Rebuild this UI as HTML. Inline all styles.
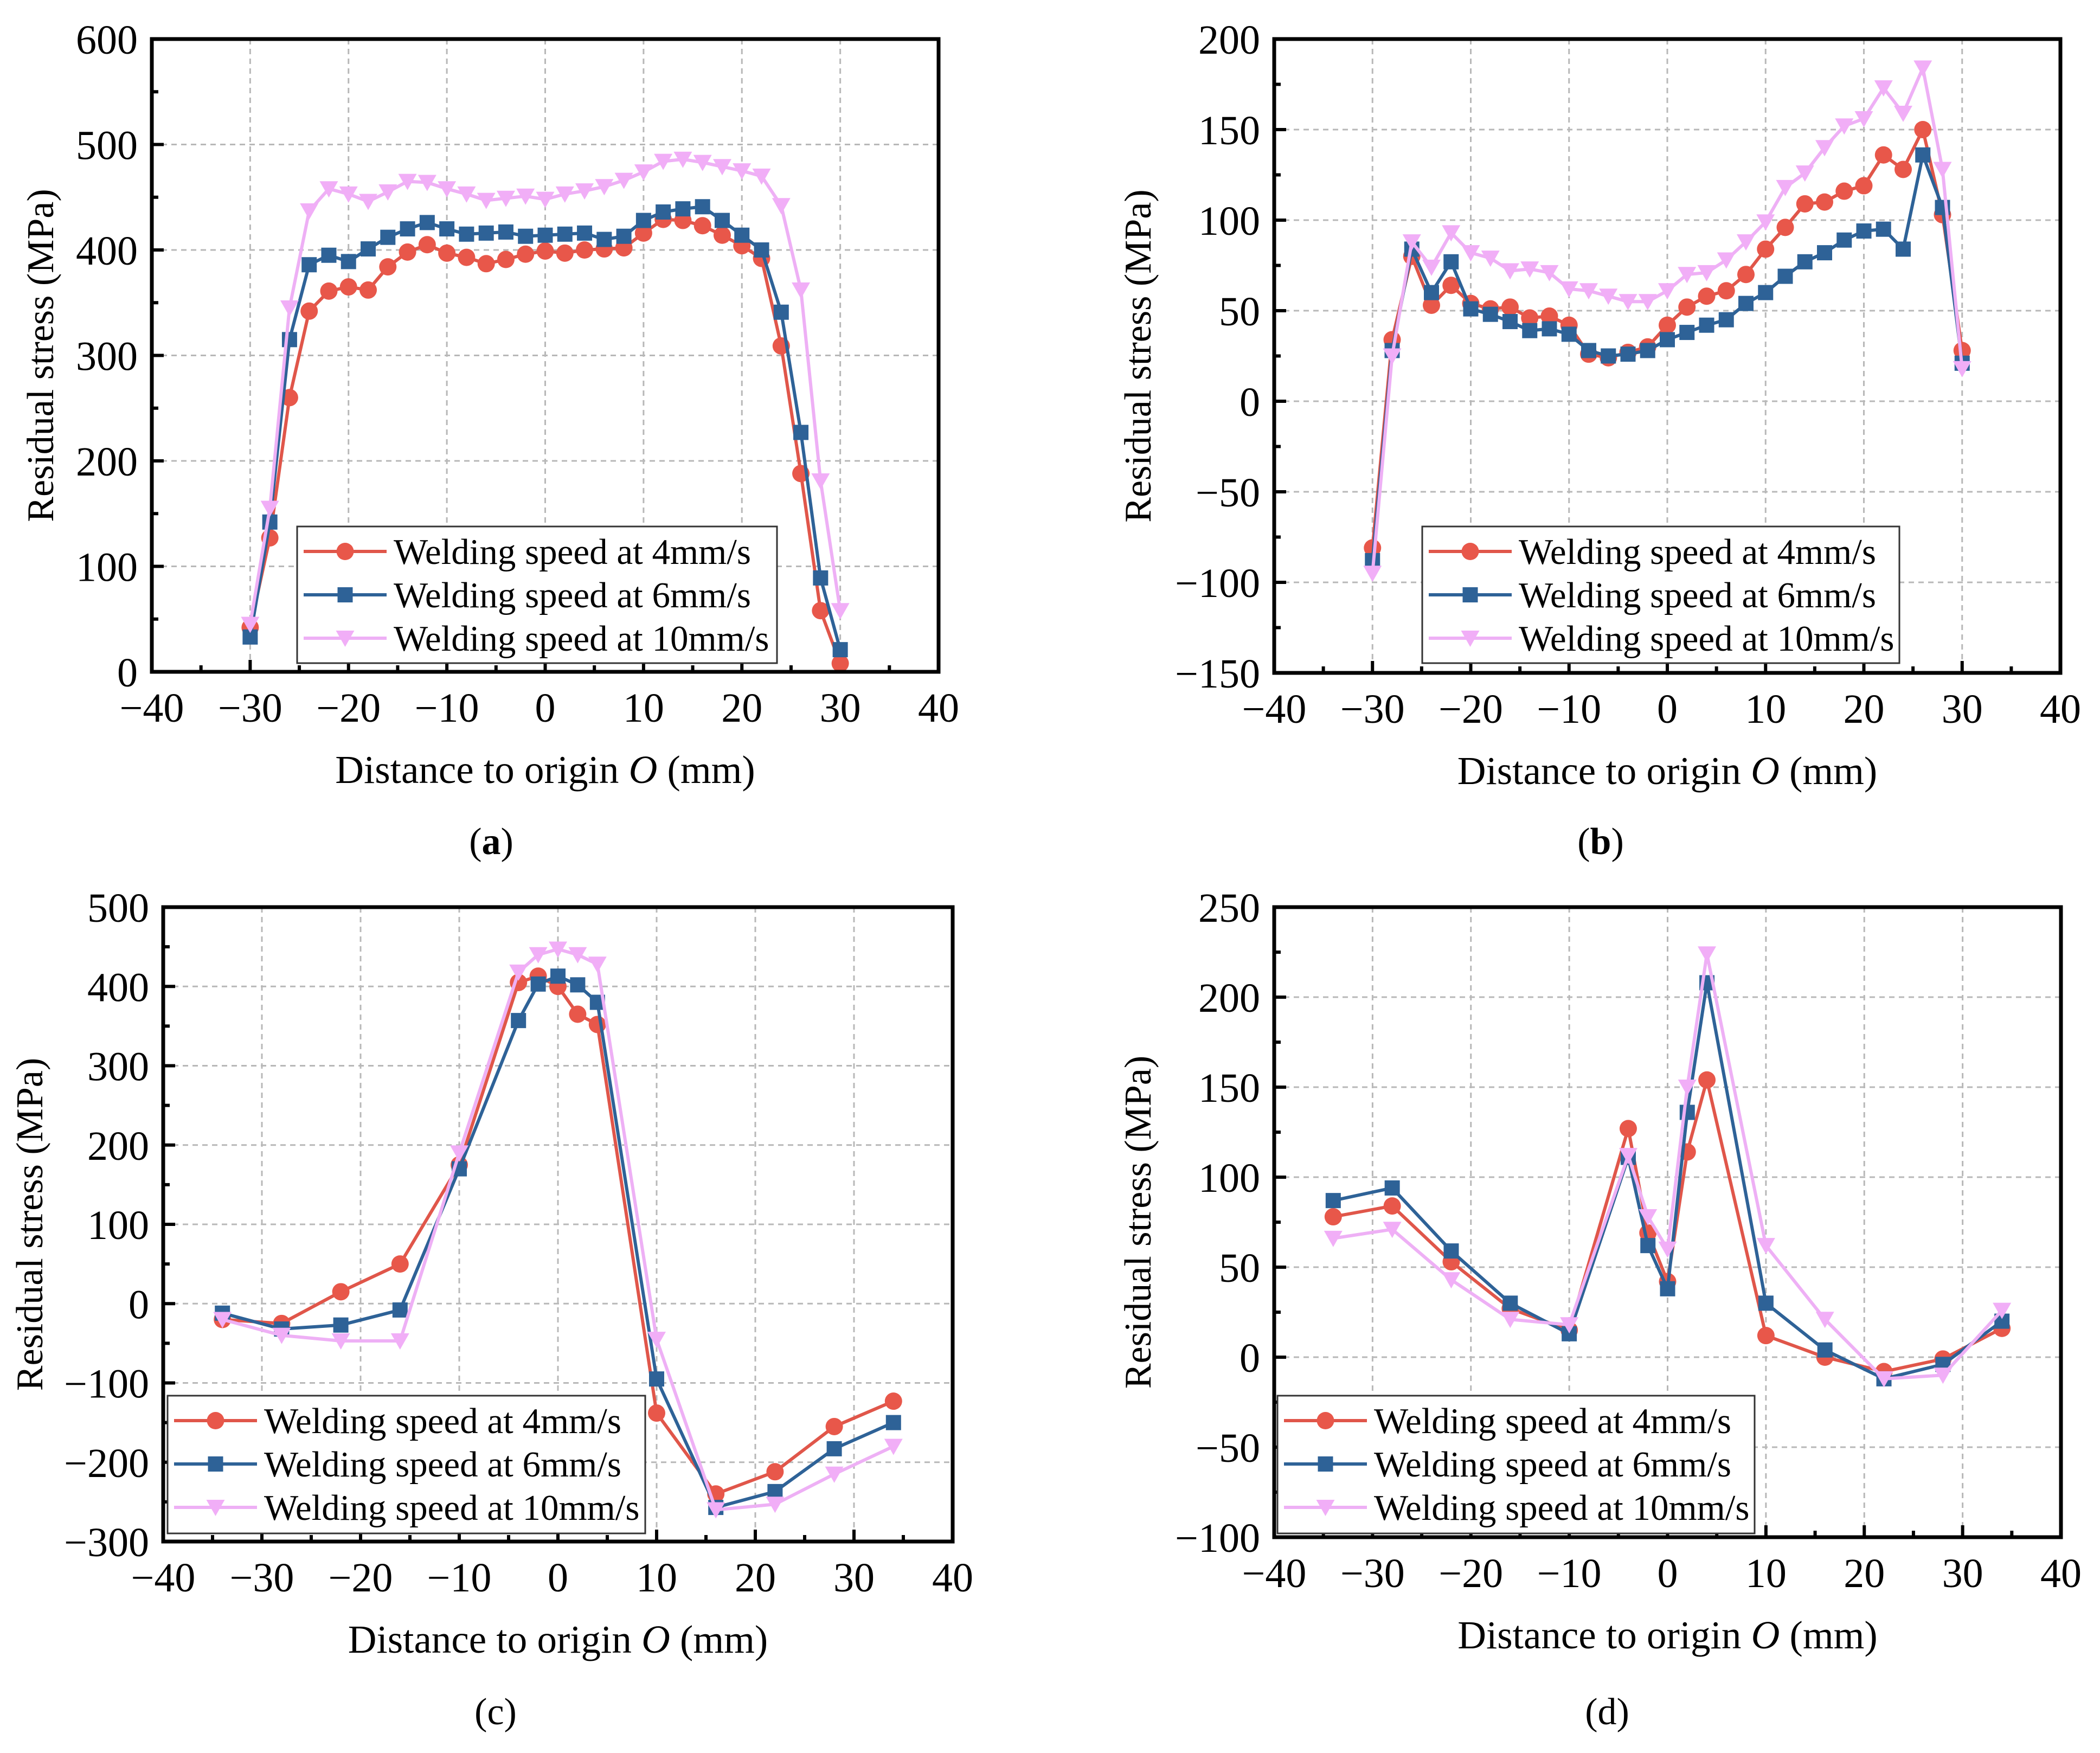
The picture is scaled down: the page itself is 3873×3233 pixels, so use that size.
<!DOCTYPE html>
<html><head><meta charset="utf-8">
<style>
html,body{margin:0;padding:0;background:#fff;}
svg{display:block;font-family:"Liberation Serif",serif;}
</style></head>
<body>
<svg id="fig" width="3873" height="3233" viewBox="0 0 3873 3233" xmlns="http://www.w3.org/2000/svg"></svg>
<script>
// ---- data ----
const xA = [-30,-28,-26,-24,-22,-20,-18,-16,-14,-12,-10,-8,-6,-4,-2,0,2,4,6,8,10,12,14,16,18,20,22,24,26,28,30];
const aRed  = [42,127,260,342,361,365,362,384,398,405,397,393,387,391,396,399,397,400,401,402,416,429,428,423,414,404,392,309,188,58,8];
const aBlue = [33,142,315,386,395,389,401,412,420,426,420,415,416,417,413,414,415,416,410,413,428,436,439,441,428,414,400,341,227,89,21];
const aPink = [45,155,345,437,458,453,446,455,465,464,458,453,447,449,451,448,453,456,460,466,474,484,486,483,479,475,470,442,362,181,58];
const xB = xA;
const bRed  = [-81,34,80,53,64,54,51,52,46,47,42,26,24,27,30,42,52,58,61,70,84,96,109,110,116,119,136,128,150,103,28];
const bBlue = [-88,28,84,60,77,51,48,44,39,40,37,28,25,26,28,34,38,42,45,54,60,69,77,82,89,94,95,84,136,107,21];
const bPink = [-95,25,88,74,93,82,79,72,73,71,62,61,58,55,55,61,70,71,78,88,99,118,126,140,152,156,173,159,184,128,18];
const xC = [-34,-28,-22,-16,-10,-4,-2,0,2,4,10,16,22,28,34];
const cRed  = [-20,-25,15,50,175,405,413,400,365,352,-138,-240,-212,-155,-123];
const cBlue = [-12,-32,-27,-8,170,357,403,413,402,380,-95,-257,-237,-183,-150];
const cPink = [-20,-40,-47,-47,190,418,440,447,440,428,-45,-260,-253,-215,-180];
const xD = xC;
const dRed  = [78,84,53,27,15,127,69,42,114,154,12,0,-8,-1,16];
const dBlue = [87,94,59,30,13,111,62,38,136,208,30,4,-12,-4,20];
const dPink = [66,71,43,21,18,112,78,60,150,224,62,21,-12,-10,26];
const xTicks = [-40,-30,-20,-10,0,10,20,30,40];
const yTicksA = [0,100,200,300,400,500,600];
const yTicksB = [-150,-100,-50,0,50,100,150,200];
const yTicksC = [-300,-200,-100,0,100,200,300,400,500];
const yTicksD = [-100,-50,0,50,100,150,200,250];
const legendLabels = ["Welding speed at 4mm/s","Welding speed at 6mm/s","Welding speed at 10mm/s"];

const NS="http://www.w3.org/2000/svg";
const svg=document.getElementById('fig');
const COL=["#e8574a","#2e6297","#f1aef7"];
const LCOL=["#e0564a","#2e6297","#eeb0f5"];
function mk(tag,attrs,parent){const e=document.createElementNS(NS,tag);for(const k in attrs)e.setAttribute(k,attrs[k]);(parent||svg).appendChild(e);return e;}
function fmt(v){return v<0?"\u2212"+(-v):String(v);}

function panel(p){
  const g=mk('g',{});
  
  
  const X=v=>p.L+(v-(-40))/80*(p.R-p.L);
  const Y=v=>p.B-(v-p.ymin)/(p.ymax-p.ymin)*(p.B-p.T);
  xTicks.forEach(t=>{if(t>-40&&t<40){const l=mk('line',{x1:X(t),x2:X(t),y1:p.T,y2:p.B,stroke:'#b8b8b8','stroke-width':3,'stroke-dasharray':'10 8'},g);
    }});
  p.yt.forEach(t=>{if(t>p.ymin&&t<p.ymax){const l=mk('line',{x1:p.L,x2:p.R,y1:Y(t),y2:Y(t),stroke:'#b8b8b8','stroke-width':3,'stroke-dasharray':'10 8'},g);
    }});
  for(let t=-40;t<=40;t+=5){const major=t%10===0;const l=mk('line',{x1:X(t),x2:X(t),y1:p.B,y2:p.B-(major?22:12),stroke:'#000','stroke-width':6},g);
    }
  const st=p.yt[1]-p.yt[0];
  for(let t=p.ymin;t<=p.ymax;t+=st/2){const major=Math.abs(((t-p.ymin)/st)%1)<1e-6;const l=mk('line',{x1:p.L,x2:p.L+(major?22:12),y1:Y(t),y2:Y(t),stroke:'#000','stroke-width':6},g);
    }
  xTicks.forEach(t=>{const e=mk('text',{x:X(t),y:p.B+92,'font-size':76,'text-anchor':'middle',fill:'#000'},g);e.textContent=fmt(t);
    });
  p.yt.forEach(t=>{const e=mk('text',{x:p.L-26,y:Y(t)+27,'font-size':76,'text-anchor':'end',fill:'#000'},g);e.textContent=fmt(t);
    });
  const xt=mk('text',{x:(p.L+p.R)/2,y:p.B+205,'font-size':73,'text-anchor':'middle',fill:'#000'},g);
  xt.innerHTML='Distance to origin <tspan font-style="italic">O</tspan> (mm)';
  
  const yt=mk('text',{x:0,y:0,'font-size':70,'text-anchor':'middle',fill:'#000',transform:`translate(${p.ytx},${(p.T+p.B)/2}) rotate(-90)`},g);
  yt.textContent='Residual stress (MPa)';
  
  p.series.forEach((s,i)=>{
    const sg=mk('g',{},g);
    
    
    const pts=p.x.map((xv,k)=>X(xv)+','+Y(s[k])).join(' ');
    const pl=mk('polyline',{points:pts,fill:'none',stroke:LCOL[i],'stroke-width':6,'stroke-linejoin':'round'},sg);
    
    p.x.forEach((xv,k)=>{drawMarker(sg,i,X(xv),Y(s[k]));});
  });
  const fr=mk('rect',{x:p.L,y:p.T,width:p.R-p.L,height:p.B-p.T,fill:'none',stroke:'#000','stroke-width':7},g);
  
  const lg=mk('g',{},g);
  
  const lb=mk('rect',{x:p.lg[0],y:p.lg[1],width:p.lg[2],height:p.lg[3],fill:'#fff',stroke:'#333','stroke-width':3},lg);
  
  legendLabels.forEach((lab,i)=>{
    const yy=p.lg[1]+46+i*80;
    const x0=p.lg[0]+12,x1=p.lg[0]+165;
    const ent=mk('g',{},lg);
    
    mk('line',{x1:x0,x2:x1,y1:yy,y2:yy,stroke:LCOL[i],'stroke-width':6},ent);
    drawMarker(ent,i,(x0+x1)/2,yy);
    const t=mk('text',{x:p.lg[0]+178,y:yy+23,'font-size':67,fill:'#000'},ent);t.textContent=lab;
  });
  const pl=mk('text',{x:p.labx,y:p.lab,'font-size':70,'text-anchor':'middle',fill:'#000'},g);
  pl.innerHTML=p.bold?'(<tspan font-weight="bold">'+p.id+'</tspan>)':'('+p.id+')';
  
}
function drawMarker(par,i,cx,cy){
  let m;
  if(i===0){m=mk('circle',{cx:cx,cy:cy,r:16,fill:COL[0]},par);}
  else if(i===1){m=mk('rect',{x:cx-14,y:cy-14,width:28,height:28,fill:COL[1]},par);}
  else {m=mk('polygon',{points:`${cx-17},${cy-14} ${cx+17},${cy-14} ${cx},${cy+16}`,fill:COL[2]},par);}
  
  
}
panel({id:'a',L:280,R:1731,T:72,B:1239,ymin:0,ymax:600,yt:yTicksA,x:xA,series:[aRed,aBlue,aPink],ytx:98,lg:[548,971,885,252],lab:1575,labx:906,bold:true});
panel({id:'b',L:2350,R:3800,T:72,B:1241,ymin:-150,ymax:200,yt:yTicksB,x:xB,series:[bRed,bBlue,bPink],ytx:2122,lg:[2623,971,880,252],lab:1575,labx:2952,bold:true});
panel({id:'c',L:301,R:1757,T:1673,B:2843,ymin:-300,ymax:500,yt:yTicksC,x:xC,series:[cRed,cBlue,cPink],ytx:78,lg:[309,2574,881,254],lab:3180,labx:914,bold:false});
panel({id:'d',L:2350,R:3801,T:1673,B:2835,ymin:-100,ymax:250,yt:yTicksD,x:xD,series:[dRed,dBlue,dPink],ytx:2122,lg:[2356,2574,880,254],lab:3180,labx:2964,bold:false});
</script>
</body></html>
